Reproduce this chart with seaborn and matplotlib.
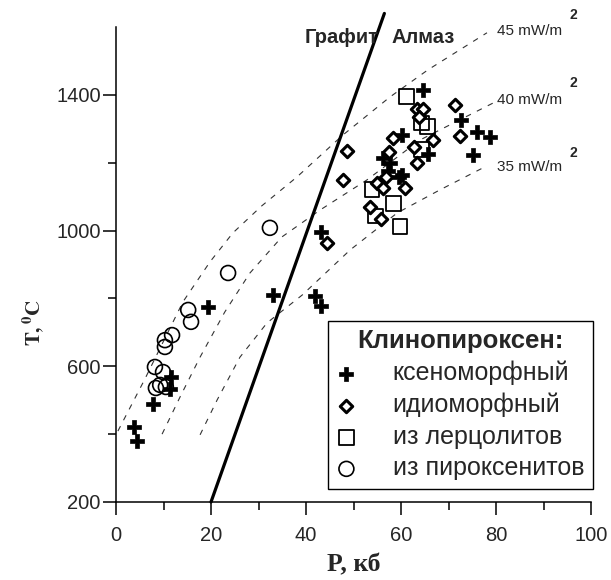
import matplotlib
matplotlib.use("Agg")
import matplotlib.pyplot as plt
import seaborn as sns
import pandas as pd

sns.set_style("ticks")
plt.rcParams['font.family'] = ['Liberation Sans', 'DejaVu Sans']
plt.rcParams['mathtext.fontset'] = 'stix'

# --- data ---
xeno_P = [3.8, 4.4, 7.8, 11.6, 11.4, 19.4, 33.1, 43.2, 41.9, 43.2,
          64.6, 72.6, 76.0, 78.7, 75.2, 65.7, 60.2, 56.2, 57.7, 57.3, 60.2, 59.6]
xeno_T = [420, 380, 489, 568, 533, 775, 810, 996, 807, 778,
          1414, 1326, 1290, 1276, 1223, 1226, 1282, 1214, 1200, 1176, 1164, 1158]

idio_P = [48.6, 47.8, 44.4, 58.3, 63.4, 64.6, 63.8, 71.4, 72.4, 66.7,
          62.7, 57.5, 63.4, 56.8, 54.9, 56.2, 60.8, 53.5, 55.8]
idio_T = [1235, 1149, 963, 1273, 1359, 1359, 1335, 1371, 1280, 1267,
          1246, 1232, 1199, 1158, 1140, 1126, 1126, 1070, 1035]

lherz_P = [61.1, 64.4, 65.5, 64.4, 53.9, 58.5, 54.7, 59.8]
lherz_T = [1394, 1317, 1308, 1238, 1120, 1081, 1043, 1011]

pyrox_P = [32.4, 23.6, 15.2, 15.8, 11.8, 10.3, 10.3, 8.2, 9.9, 9.3, 8.4, 10.5]
pyrox_T = [1008, 875, 766, 731, 692, 677, 657, 598, 583, 545, 536, 539]

# graphite-diamond boundary
gd_P = [20.0, 56.5]
gd_T = [200, 1640]

# geotherms
g45_P = [0.4, 6.1, 9.3, 14.1, 19.8, 24.6, 30.7, 38.1, 47.8, 57.7, 65.7, 78.1]
g45_T = [409, 563, 654, 790, 908, 993, 1073, 1158, 1282, 1394, 1474, 1583]
g40_P = [9.7, 13.5, 17.7, 22.9, 28.2, 34.9, 42.9, 52.8, 64.0, 79.4]
g40_T = [400, 510, 627, 760, 875, 981, 1060, 1149, 1267, 1376]
g35_P = [17.7, 21.3, 26.1, 31.8, 39.2, 49.3, 59.2, 68.2, 77.7]
g35_T = [398, 501, 627, 728, 810, 943, 1052, 1120, 1188]

labels = ["ксеноморфный", "идиоморфный", "из лерцолитов", "из пироксенитов"]
x_ticks = [0, 20, 40, 60, 80, 100]
y_ticks = [200, 600, 1000, 1400]

fig = plt.figure(figsize=(6.11, 5.80), dpi=100)
ax = fig.add_axes([116/611, 1-502/580, 475/611, 475/580])

# geotherms
for gp, gt in [(g45_P, g45_T), (g40_P, g40_T), (g35_P, g35_T)]:
    sns.lineplot(x=gp, y=gt, ax=ax, color='#333333', lw=0.8,
                 linestyle=(0, (5, 6)), sort=False, estimator=None)

# graphite-diamond line
sns.lineplot(x=gd_P, y=gd_T, ax=ax, color='black', lw=2.3, sort=False,
             estimator=None, clip_on=False)

df_c = pd.DataFrame({'P': pyrox_P, 'T': pyrox_T})
df_s = pd.DataFrame({'P': lherz_P, 'T': lherz_T})
df_d = pd.DataFrame({'P': idio_P, 'T': idio_T})
df_x = pd.DataFrame({'P': xeno_P, 'T': xeno_T})

sns.scatterplot(data=df_x, x='P', y='T', ax=ax, marker='P', s=110,
                color='black', edgecolor='black', linewidth=0.5, label=labels[0], zorder=4)
sns.scatterplot(data=df_d, x='P', y='T', ax=ax, marker='D', s=40,
                facecolors='white', edgecolor='black', linewidth=2.2, label=labels[1], zorder=5)
sns.scatterplot(data=df_s, x='P', y='T', ax=ax, marker='s', s=115,
                facecolors='none', edgecolor='black', linewidth=1.3, label=labels[2], zorder=3)
sns.scatterplot(data=df_c, x='P', y='T', ax=ax, marker='o', s=115,
                facecolors='none', edgecolor='black', linewidth=1.2, label=labels[3], zorder=3)

ax.set_xlim(0, 100)
ax.set_ylim(200, 1600)
ax.set_xticks(x_ticks)
ax.set_xticks([10, 30, 50, 70, 90], minor=True)
ax.set_yticks(y_ticks)
ax.set_yticks([400, 800, 1200], minor=True)
ax.tick_params(which='major', length=9.5, width=1.1, labelsize=14.5, color='black')
ax.tick_params(which='minor', length=5.5, width=1.1, color='black')
ax.tick_params(axis='x', which='major', pad=7.5)
ax.tick_params(axis='y', which='major', pad=1.5)
for sp in ['top', 'right']:
    ax.spines[sp].set_visible(False)
for sp in ['left', 'bottom']:
    ax.spines[sp].set_linewidth(1.1)
    ax.spines[sp].set_color('black')

ax.set_xlabel("P, кб", family=['Liberation Serif'], fontweight='bold', fontsize=18.5)
ax.set_ylabel(r"$\mathbf{T,{}^0C}$", fontsize=15)
ax.xaxis.set_label_coords(0.5, -0.108)
ax.yaxis.set_label_coords(-0.148, 0.379)

# annotations
ax.text(55.2, 1568, "Графит", ha='right', va='center', fontsize=14.5, fontweight='bold')
ax.text(57.9, 1568, "Алмаз", ha='left', va='center', fontsize=14.5, fontweight='bold')
for t, y, y2 in [("45 mW/m", 1589, 1636), ("40 mW/m", 1385, 1435), ("35 mW/m", 1188, 1229)]:
    ax.text(80.2, y, t, ha='left', va='center', fontsize=11, clip_on=False)
    ax.text(95.4, y2, "2", ha='left', va='center', fontsize=10, fontweight='bold', clip_on=False)

leg = ax.legend(title="Клинопироксен:", loc='lower right', bbox_to_anchor=(1.004, 0.027),
                borderaxespad=0, fontsize=18, title_fontproperties={'weight': 'bold', 'size': 18.5},
                frameon=True, fancybox=False, edgecolor='black', framealpha=1,
                handlelength=0.8, handletextpad=1.45, labelspacing=0.3, borderpad=0.35)
leg.get_frame().set_linewidth(1.0)

fig.savefig("out.png", dpi=100)
